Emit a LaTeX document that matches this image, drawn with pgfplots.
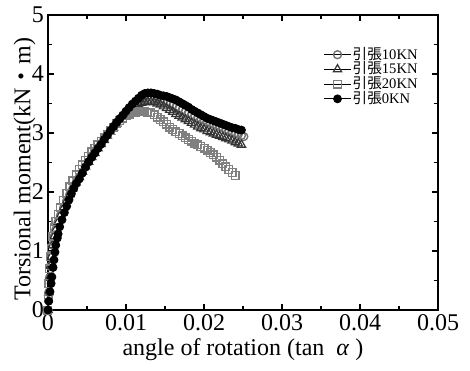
\documentclass[border=0pt]{standalone}
\usepackage{pgfplots}
\pgfplotsset{compat=1.18}
\usepackage{fontspec}
\setmainfont{Liberation Serif}
\newfontfamily\cjk{Noto Sans CJK JP}
\pgfplotsset{myleg/.style={legend image code/.code={%
  \draw[black,line width=0.5pt] (0pt,0pt) -- (13.5pt,0pt);
  \draw[##1] plot coordinates {(6.75pt,0pt)};}}}
\begin{document}
\begin{tikzpicture}
\useasboundingbox (-24pt,-30pt) rectangle (211pt,155pt);
\begin{axis}[
  width=195pt, height=147.5pt, scale only axis,
  xmin=0, xmax=0.05, ymin=0, ymax=5,
  xtick={0,0.01,0.02,0.03,0.04,0.05},
  xticklabels={0,0.01,0.02,0.03,0.04,0.05},
  ytick={0,1,2,3,4,5},
  minor x tick num=1, minor y tick num=1,
  tick align=inside,
  major tick length=3pt, minor tick length=2.2pt,
  tick style={black, line width=0.6pt},
  axis line style={line width=0.6pt},
  /pgf/number format/assume math mode=true,
  tick label style={font=\fontsize{12}{14}\selectfont},
  xticklabel style={yshift=1.5pt},
  yticklabel style={xshift=1.5pt},
  scaled x ticks=false,
  xlabel={angle of rotation (tan \ \textit{α} )},
  ylabel={Torsional moment(kN{\cjk ・}m)},
  label style={font=\fontsize{12}{14}\selectfont},
  xlabel style={at={(axis description cs:0.5,-0.136)}, anchor=center},
  ylabel style={at={(axis description cs:-0.06,0.478)}, anchor=center},
  legend style={at={(rel axis cs:0.69,0.91)}, anchor=north west, draw=none, fill=none,
    font=\fontsize{7.3}{8}\selectfont, row sep=-1.4pt, nodes={inner sep=0.6pt}},
  legend cell align=left,
]
% 10KN open circles
\addplot[only marks, mark=o, mark size=2pt, mark options={draw=black!55, fill=white, line width=0.7pt}, myleg] coordinates {
(0,0) (0.0001,0.3) (0.0002,0.55) (0.0003,0.74) (0.0004,0.9) (0.0006,1.1) (0.0008,1.25) (0.001,1.36)
(0.0013,1.49) (0.0016,1.60) (0.002,1.73) (0.0024,1.85) (0.0028,1.96) (0.0032,2.06) (0.0036,2.16)
(0.004,2.25) (0.0044,2.34) (0.0048,2.43) (0.0052,2.51) (0.0056,2.59) (0.006,2.67) (0.0064,2.75)
(0.0068,2.82) (0.0072,2.90) (0.0076,2.97) (0.008,3.04) (0.0084,3.11) (0.0088,3.18) (0.0092,3.24)
(0.0096,3.30) (0.010,3.35) (0.0104,3.40) (0.0108,3.44) (0.0112,3.48) (0.0116,3.51) (0.012,3.54)
(0.0124,3.56) (0.0128,3.57) (0.0132,3.57) (0.0136,3.57) (0.014,3.56) (0.0144,3.54) (0.0148,3.53)
(0.0152,3.51) (0.0156,3.49) (0.016,3.47) (0.0164,3.44) (0.0168,3.42) (0.0172,3.39) (0.0176,3.36)
(0.018,3.34) (0.0184,3.31) (0.0188,3.29) (0.0192,3.26) (0.0196,3.24) (0.020,3.22) (0.0204,3.19)
(0.0208,3.17) (0.0212,3.15) (0.0216,3.13) (0.022,3.11) (0.0224,3.09) (0.0228,3.06) (0.0232,3.04)
(0.0236,3.02) (0.024,3.00) (0.0244,2.98) (0.0248,2.96) (0.0251,2.94)
};
\addlegendentry{{\cjk 引張}10KN}
% 15KN triangles
\addplot[only marks, mark=triangle, mark size=2.4pt, mark options={draw=black!80, fill=white, line width=0.6pt}, myleg] coordinates {
(0,0) (0.0001,0.3) (0.0002,0.55) (0.0003,0.75) (0.0004,0.9) (0.0006,1.1) (0.0008,1.25) (0.001,1.36)
(0.0013,1.49) (0.0016,1.60) (0.002,1.73) (0.0024,1.85) (0.0028,1.96) (0.0032,2.06) (0.0036,2.16)
(0.004,2.25) (0.0044,2.34) (0.0048,2.43) (0.0052,2.51) (0.0056,2.59) (0.006,2.66) (0.0064,2.74)
(0.0068,2.81) (0.0072,2.88) (0.0076,2.95) (0.008,3.02) (0.0084,3.09) (0.0088,3.16) (0.0092,3.22)
(0.0096,3.28) (0.010,3.33) (0.0104,3.38) (0.0108,3.42) (0.0112,3.46) (0.0116,3.49) (0.012,3.51)
(0.0124,3.52) (0.0128,3.53) (0.0132,3.53) (0.0136,3.52) (0.014,3.50) (0.0144,3.48) (0.0148,3.45)
(0.0152,3.42) (0.0156,3.39) (0.016,3.36) (0.0164,3.32) (0.0168,3.29) (0.0172,3.26) (0.0176,3.23)
(0.018,3.20) (0.0184,3.17) (0.0188,3.14) (0.0192,3.11) (0.0196,3.08) (0.020,3.06) (0.0204,3.03)
(0.0208,3.01) (0.0212,2.99) (0.0216,2.97) (0.022,2.95) (0.0224,2.93) (0.0228,2.91) (0.0232,2.89)
(0.0236,2.87) (0.024,2.84) (0.0244,2.82) (0.0248,2.80)
};
\addlegendentry{{\cjk 引張}15KN}
% 20KN squares
\addplot[only marks, mark=square, mark size=1.9pt, mark options={draw=black!50, fill=white, line width=0.7pt}, myleg] coordinates {
(0,0) (0.00005,0.2) (0.0001,0.45) (0.0002,0.7) (0.0003,0.9) (0.0004,1.05) (0.0006,1.25) (0.0008,1.40)
(0.001,1.50) (0.0013,1.62) (0.0016,1.73) (0.002,1.86) (0.0024,1.98) (0.0028,2.09) (0.0032,2.19)
(0.0036,2.29) (0.004,2.38) (0.0044,2.46) (0.0048,2.54) (0.0052,2.61) (0.0056,2.68) (0.006,2.74)
(0.0064,2.80) (0.0068,2.86) (0.0072,2.92) (0.0076,2.98) (0.008,3.04) (0.0084,3.10) (0.0088,3.16)
(0.0092,3.21) (0.0096,3.25) (0.010,3.29) (0.0104,3.32) (0.0108,3.34) (0.0112,3.35) (0.0116,3.36)
(0.012,3.36) (0.0124,3.36) (0.0128,3.35) (0.0132,3.34) (0.0136,3.31) (0.014,3.27) (0.0144,3.23)
(0.0148,3.19) (0.0152,3.15) (0.0156,3.10) (0.016,3.06) (0.0164,3.02) (0.0168,2.99) (0.0172,2.95)
(0.0176,2.92) (0.018,2.89) (0.0184,2.86) (0.0188,2.83) (0.0192,2.80) (0.0196,2.77) (0.020,2.74)
(0.0204,2.71) (0.0208,2.67) (0.0212,2.63) (0.0216,2.59) (0.022,2.54) (0.0224,2.48) (0.0228,2.43)
(0.0232,2.38) (0.0236,2.33) (0.024,2.28)
};
\addlegendentry{{\cjk 引張}20KN}
% 0KN filled circles
\addplot[only marks, mark=*, mark size=2pt, mark options={draw=black, fill=black}, myleg] coordinates {
(0,0) (0.0001,0.15) (0.00026,0.31) (0.0004,0.45) (0.0005,0.56) (0.00065,0.72) (0.00077,0.85)
(0.0009,0.98) (0.001,1.10) (0.0012,1.22) (0.0013,1.29) (0.0015,1.41) (0.0018,1.53) (0.0021,1.65)
(0.0024,1.76) (0.0027,1.87) (0.003,1.97) (0.0033,2.06) (0.0036,2.14) (0.004,2.22) (0.0044,2.32)
(0.0048,2.42) (0.0052,2.51) (0.0056,2.59) (0.006,2.66) (0.0064,2.74) (0.0068,2.81) (0.0072,2.89)
(0.0076,2.96) (0.008,3.04) (0.0084,3.11) (0.0088,3.18) (0.0092,3.24) (0.0096,3.30) (0.010,3.37)
(0.0104,3.43) (0.0108,3.49) (0.0112,3.54) (0.0116,3.59) (0.012,3.64) (0.0124,3.67) (0.0128,3.68)
(0.0132,3.68) (0.0136,3.67) (0.014,3.66) (0.0144,3.64) (0.0148,3.63) (0.0152,3.62) (0.0156,3.60)
(0.016,3.58) (0.0164,3.56) (0.0168,3.53) (0.0172,3.50) (0.0176,3.47) (0.018,3.44) (0.0184,3.40)
(0.0188,3.37) (0.0192,3.34) (0.0196,3.31) (0.020,3.28) (0.0204,3.25) (0.0208,3.23) (0.0212,3.21)
(0.0216,3.19) (0.022,3.17) (0.0224,3.15) (0.0228,3.13) (0.0232,3.11) (0.0236,3.09) (0.024,3.08)
(0.0244,3.06) (0.0248,3.05)
};
\addlegendentry{{\cjk 引張}0KN}
\end{axis}
\end{tikzpicture}
\end{document}
